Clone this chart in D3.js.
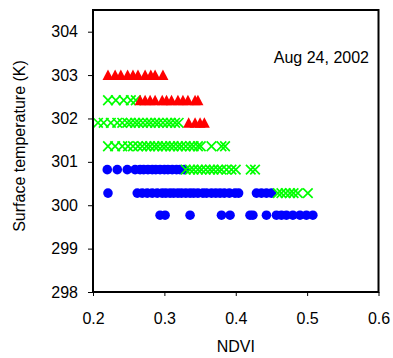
<!DOCTYPE html>
<html><head><meta charset="utf-8">
<script src="https://cdn.jsdelivr.net/npm/d3@7"></script>
<style>
html,body{margin:0;padding:0;background:#fff;}
text{font-family:"Liberation Sans",Arial,sans-serif;}
</style></head>
<body><svg id="c" width="393" height="358"></svg>
<script>
// ---- data ----
const xTicks = [0.2, 0.3, 0.4, 0.5, 0.6];
const yTicks = [298, 299, 300, 301, 302, 303, 304];
const annotation = "Aug 24, 2002";
const xLabel = "NDVI";
const yLabel = "Surface temperature (K)";

// blue circles: [temperature, [ndvi...]]
const blueT = [300.82, 300.28, 299.77];
const blueN = [
  [0.220,0.234,0.248,0.259,0.266,0.271,0.277,0.283,0.288,0.294,0.300,0.305,0.311,0.317,0.322,0.328],
  [0.221,0.262,0.269,0.276,0.283,0.290,0.297,0.302,0.308,0.313,0.319,0.324,0.330,0.336,0.341,0.347,0.354,0.359,0.366,0.372,0.378,0.384,0.391,0.399,0.404,0.429,0.436,0.443,0.450],
  [0.294,0.301,0.336,0.380,0.392,0.420,0.424,0.443,0.457,0.464,0.471,0.480,0.490,0.499,0.508]
];
// green crosses
const greenT = [302.42, 301.9, 301.36, 300.82, 300.28];
const greenN = [
  [0.221,0.232,0.243,0.253,0.260],
  [0.207,0.215,0.225,0.234,0.241,0.248,0.253,0.259,0.264,0.270,0.276,0.281,0.287,0.292,0.298,0.304,0.309,0.315,0.320],
  [0.221,0.231,0.241,0.249,0.256,0.263,0.269,0.275,0.280,0.286,0.291,0.297,0.302,0.308,0.313,0.319,0.324,0.330,0.336,0.341,0.347,0.351,0.366,0.380,0.385],
  [0.330,0.336,0.341,0.347,0.352,0.358,0.364,0.369,0.375,0.380,0.387,0.394,0.400,0.421,0.427],
  [0.459,0.464,0.470,0.476,0.481,0.487,0.501]
];
// red triangles
const redT = [303.0, 302.42, 301.9];
const redN = [
  [0.221,0.231,0.239,0.2485,0.256,0.263,0.273,0.281,0.287,0.298],
  [0.266,0.273,0.280,0.287,0.297,0.303,0.310,0.319,0.326,0.333,0.343,0.347],
  [0.334,0.343,0.350,0.356]
];

// ---- chart ----
const svg = d3.select("#c");
const L = 93, R = 378.5, T = 10, B = 292;
const x = d3.scaleLinear().domain([0.2, 0.6]).range([L, R]);
const y = d3.scaleLinear().domain([298, 304.5]).range([B, T]);

function flat(ts, ns){ const out=[]; ts.forEach((t,i)=>ns[i].forEach(n=>out.push({t,n}))); return out; }

const g = svg.append("g");
g.selectAll("circle.b").data(flat(blueT, blueN)).join("circle")
  .attr("cx", d=>x(d.n)).attr("cy", d=>y(d.t)).attr("r", 4.8).attr("fill", "#0000ff");

const xs = 4.8;
g.selectAll("path.g").data(flat(greenT, greenN)).join("path")
  .attr("transform", d=>`translate(${x(d.n)},${y(d.t)})`)
  .attr("d", `M${-xs},${-xs}L${xs},${xs}M${-xs},${xs}L${xs},${-xs}`)
  .attr("stroke", "#00ff00").attr("stroke-width", 1.7).attr("fill", "none");

g.selectAll("path.r").data(flat(redT, redN)).join("path")
  .attr("transform", d=>`translate(${x(d.n)},${y(d.t)})`)
  .attr("d", "M0,-5.5L5.5,5L-5.5,5Z")
  .attr("fill", "#ff0000");

// frame
svg.append("rect").attr("x", L).attr("y", T).attr("width", R-L).attr("height", B-T)
  .attr("fill", "none").attr("stroke", "#000").attr("stroke-width", 2);

// axes
const ya = svg.append("g").attr("transform", `translate(${L},0)`)
  .call(d3.axisLeft(y).tickValues(yTicks).tickSize(5).tickPadding(10).tickFormat(d3.format("d")));
ya.select(".domain").remove();
ya.selectAll("text").attr("font-size", 16).attr("font-family", "Liberation Sans, Arial, sans-serif").attr("fill","#000");
ya.selectAll("line").attr("stroke", "#000");

const xa = svg.append("g").attr("transform", `translate(0,${B})`)
  .call(d3.axisBottom(x).tickValues(xTicks).tickSize(4).tickFormat(d3.format(".1f")));
xa.select(".domain").remove();
xa.selectAll("text").attr("font-size", 16).attr("font-family", "Liberation Sans, Arial, sans-serif")
  .attr("y", 31.5).attr("dy", 0).attr("fill","#000");
xa.selectAll("line").attr("stroke", "#000");

svg.append("text").attr("x", (L+R)/2).attr("y", 352).attr("text-anchor", "middle")
  .attr("font-size", 16).text(xLabel);
svg.append("text").attr("transform", "translate(25,146) rotate(-90)").attr("text-anchor", "middle")
  .attr("font-size", 16).text(yLabel);
svg.append("text").attr("x", 369).attr("y", 63).attr("text-anchor", "end")
  .attr("font-size", 16).text(annotation);
</script></body></html>
